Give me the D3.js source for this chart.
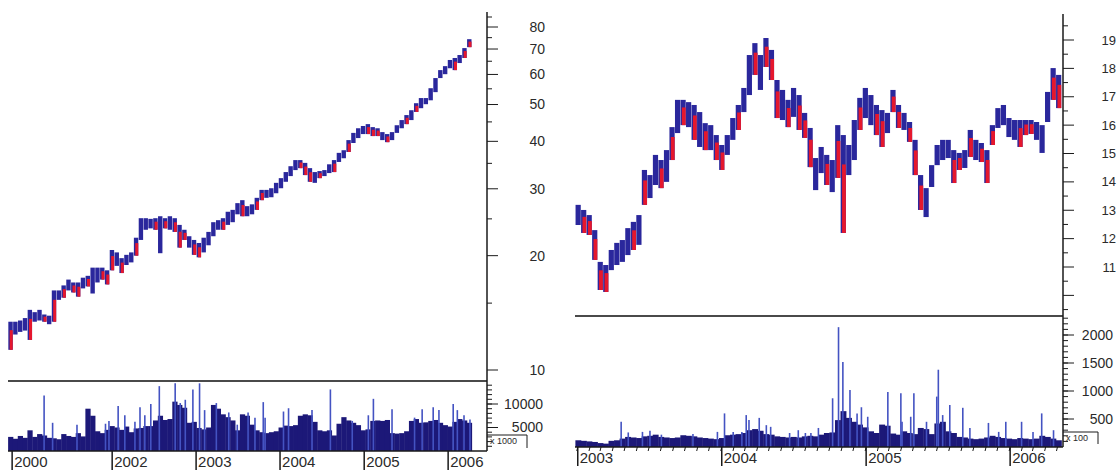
<!DOCTYPE html>
<html>
  <head>
    <meta charset="utf-8">
    <title>Price and volume</title>
    <script src="https://d3js.org/d3.v7.min.js"></script>
    <style>
      body { margin: 0; background: #fff; }
      svg { display: block; font-family: "Liberation Sans", Arial, sans-serif; }
      .label { font-size: 14px; fill: #2a2a2a; }
      .year { font-size: 15px; fill: #2a2a2a; }
      .unit { font-size: 9px; fill: #2a2a2a; }
    </style>
  </head>
  <body>
    <svg id="chart" width="1117" height="471"></svg>
    <script>
      // left chart: 3-week bars from late 2000
      const leftStart = "2000-10-16";
      const leftStepDays = 21;
      const leftHigh = [13.4,13.4,13.5,13.7,14.4,14.2,14.4,14.0,13.9,16.2, 16.2,16.7,17.3,17.0,17.0,17.5,17.7,18.6,18.6,18.6,
        18.3,20.7,20.4,19.7,20.1,20.4,22.3,25.1,25.1,25.0, 25.1,25.4,25.1,25.4,25.1,24.1,23.4,22.5,22.0,21.6,
        22.3,23.1,24.5,24.8,25.1,26.1,26.4,27.5,28.0,27.0, 27.3,28.4,29.8,29.8,30.1,31.1,32.0,33.2,34.4,35.7,
        35.7,35.1,34.0,33.2,33.4,33.6,34.8,35.7,37.3,37.9, 40.3,42.1,43.3,43.9,44.4,43.6,43.3,42.3,41.8,42.3,
        44.1,45.5,46.9,48.3,50.4,52.0,52.0,55.2,58.7,61.6, 63.1,65.5,66.3,67.5,70.4,74.3];
      const leftLow = [11.3,12.4,12.6,12.7,12.0,13.4,13.5,13.4,13.2,13.4, 15.3,15.5,16.2,16.0,15.6,16.4,16.6,15.9,17.0,17.3,
        16.8,18.3,18.8,18.0,18.9,19.2,20.0,22.0,23.4,23.6, 23.4,20.3,23.6,23.4,23.1,21.0,22.0,21.0,20.1,19.8,
        20.4,21.3,22.5,23.4,23.4,24.1,24.5,25.7,25.4,25.4, 25.7,26.4,28.0,28.4,28.5,29.2,30.1,31.3,32.4,33.6,
        34.0,32.6,31.3,31.1,32.0,32.4,33.0,33.2,35.3,36.1, 37.5,39.6,40.8,41.8,41.8,41.3,41.3,40.3,39.8,40.3,
        42.1,43.3,44.4,45.5,47.8,48.9,50.1,51.3,53.9,58.7, 60.1,62.3,61.6,64.3,66.3,70.8];
      // bars that show red (falling) in the picture
      const leftRed = [0,4,7,9,11,13,14,16,19,20,21,23,26,30,32,34,35,36,38,39,44,48,51,52,60,61,62,64,67,70,74,75,76,78,82,84,92,94,95];
      const leftVolume = [3000,2600,3200,2800,4400,3000,3600,3300,2800,2700, 2500,3600,3200,3000,3800,3100,9000,7500,4200,3800,
        4500,5300,5000,4500,5200,4000,4800,4900,5300,5300, 6500,7500,6600,6800,10500,9800,9200,6000,6200,4900,
        4600,5000,9800,9000,7800,7200,6500,4400,7800,7500, 5600,4400,4000,3800,4000,4200,5000,5400,5300,5500,
        7500,7800,7600,6200,4400,4200,4400,3300,5800,7200, 6500,6000,5500,4400,4600,6400,6500,6400,6600,3800,
        3700,3800,4200,6400,6800,6000,6100,6400,6600,6000, 5500,5200,6200,6800,6500,6000];
      const leftSpikeYears = [2001.19,2001.29,2001.58,2001.92,2001.96, 2002.07,2002.15,2002.27,2002.33,2002.39,2002.46,2002.56,2002.75,2002.81,2002.87,2002.96,
        2003.04,2003.10,2003.24,2003.39,2003.49,2003.62,2003.70,2003.80,2003.82, 2004.04,2004.10,2004.38,2004.60,2004.86,
        2005.05,2005.11,2005.33,2005.60,2005.69,2005.82,2005.89, 2006.06,2006.11,2006.19,2006.26];
      const leftSpikeVolume = [11800,6000,5600,5800,6400, 9600,7600,6200,9300,7600,10000,13800,14400,10200,10900,13100,
        14400,8700,10200,8200,5600,8200,7100,10400,7100, 8400,9100,8700,13100,6400,
        7600,11100,8900,7100,8900,9300,8700, 10000,8700,7600,6700];
      const leftPriceTicks = [10, 20, 30, 40, 50, 60, 70, 80];
      const leftPriceMinor = [15, 25, 35, 45, 55, 65, 75, 85];
      const leftVolumeTicks = [5000, 10000];
      const leftYearDates = ["2000-10-23", "2002-01-01", "2003-01-01", "2004-01-01", "2005-01-01", "2006-01-01"];
      const leftYearLabels = ["2000", "2002", "2003", "2004", "2005", "2006"];

      // right chart: 2-week bars from 2003
      const rightStart = "2003-01-02";
      const rightStepDays = 14;
      const rightHigh = [13.19,13.01,12.83,12.30,11.18,11.07,11.60,11.85,11.95,12.37, 12.59,12.83,14.42,14.24,14.95,14.77,15.12,15.93,16.89,16.89,
        16.81,16.71,16.46,16.07,16.00,15.65,15.30,15.65,16.25,16.71, 17.31,18.47,18.89,18.47,19.07,18.65,17.59,17.24,16.89,17.31,
        17.06,16.43,15.90,14.84,15.23,14.95,14.77,16.00,15.65,15.30, 16.18,16.96,17.31,17.06,16.71,16.53,16.43,17.24,16.71,16.43,
        16.11,15.48,14.24,13.78,14.59,15.30,15.48,15.48,15.12,15.02, 15.12,15.83,15.48,15.37,15.12,16.00,16.60,16.71,16.25,16.18,
        16.18,16.18,16.18,16.11,16.00,17.17,18.01,17.77];
      const rightLow = [12.48,12.20,12.13,11.25,10.19,10.12,10.89,11.07,11.18,11.42, 11.60,11.78,13.19,13.43,13.89,13.78,14.00,14.77,15.72,16.00,
        15.93,15.48,15.23,15.12,15.12,14.77,14.42,14.95,15.48,15.83, 16.46,17.06,17.77,17.24,18.05,17.59,16.25,16.18,15.93,16.29,
        15.83,15.55,14.52,13.71,14.31,13.89,13.64,14.14,12.20,14.24, 14.77,15.83,16.25,16.00,15.65,15.23,15.72,16.46,15.90,15.83,
        15.41,14.24,13.01,12.76,13.82,14.59,14.77,14.84,13.96,14.42, 14.49,14.88,14.77,14.70,13.96,15.30,15.90,16.00,15.58,15.48,
        15.23,15.65,15.69,15.48,15.02,16.11,16.89,16.60];
      const rightRed = [1,2,3,4,5,10,12,15,17,19,21,23,25,26,29,32,34,35,36,38,40,41,42,45,47,48,51,54,55,57,58,60,61,62,68,69,71,73,74,75,80,81,82,86,87];
      const rightVolume = [120,110,100,90,70,60,110,120,150,180, 170,160,190,200,220,180,170,160,170,210,
        200,190,170,160,150,140,160,210,220,230, 250,300,320,290,230,220,190,180,170,180,
        170,190,200,190,220,250,260,480,640,520, 450,400,350,280,250,400,380,240,220,280,
        250,230,340,320,230,420,450,280,250,180, 170,150,140,150,170,200,180,160,150,140,
        160,150,140,150,200,180,150,120];
      const rightSpikeYears = [2003.30,2003.35,2003.45,2003.50,2003.58,2003.80,2003.97,
        2004.02,2004.08,2004.14,2004.17,2004.19,2004.26,2004.31,2004.34,2004.47,2004.53,2004.58,2004.62,2004.67,2004.77,2004.81,2004.84,2004.89,2004.94,2004.97,
        2005.01,2005.15,2005.24,2005.25,2005.31,2005.33,2005.42,2005.49,2005.50,2005.53,2005.58,2005.67,2005.72,2005.85,2005.92,2005.97,
        2006.08,2006.16,2006.22,2006.30];
      const rightSpikeVolume = [450,260,270,290,220,230,270,
        600,270,270,570,480,520,390,360,250,300,250,250,340,870,2140,1520,1020,600,710,
        540,980,960,450,540,960,450,900,1380,570,750,700,340,430,270,450,
        450,270,600,300];
      const rightPriceTicks = [11, 12, 13, 14, 15, 16, 17, 18, 19];
      const rightVolumeTicks = [500, 1000, 1500, 2000];
      const rightYearDates = ["2003-01-01", "2004-01-01", "2005-01-01", "2006-01-01"];
      const rightYearLabels = ["2003", "2004", "2005", "2006"];

      // colours
      upColour = "#2a279c";
      downColour = "#e5172d";
      volumeColour = "#1c1878";
      spikeColour = "#4453c2";

      chart = d3.select("#chart");
      parseDate = d3.timeParse("%Y-%m-%d");

      function yearToDate(t) {
        year = Math.floor(t);
        return d3.timeDay.offset(new Date(year, 0, 1), Math.round((t - year) * 365.25));
      }

      function drawPanel(p) {
        g = chart.append("g");
        x = d3.scaleTime()
          .domain([yearToDate(p.startYear), yearToDate(p.endYear)])
          .range([p.left, p.right]);
        dates = p.high.map(function(d, i) { return d3.timeDay.offset(parseDate(p.start), i * p.step); });
        step = x(dates[1]) - x(dates[0]);
        // volume bars
        g.selectAll(".vol")
          .data(p.volume)
          .enter().append("rect")
            .attr("x", function(d, i) { return x(dates[i]) - step / 2; })
            .attr("width", step + 0.4)
            .attr("y", function(d) { return p.yVol(d); })
            .attr("height", function(d) { return p.yVol(0) - p.yVol(d); })
            .attr("fill", volumeColour);
        g.selectAll(".spike")
          .data(p.spikeYears)
          .enter().append("line")
            .attr("x1", function(d) { return x(yearToDate(d)); })
            .attr("x2", function(d) { return x(yearToDate(d)); })
            .attr("y1", p.yVol(0))
            .attr("y2", function(d, i) { return p.yVol(p.spikeVolume[i]); })
            .attr("stroke", spikeColour)
            .attr("stroke-width", 1.6);
        // price bars: blue range, red overlay on falling bars
        g.selectAll(".bar")
          .data(p.high)
          .enter().append("rect")
            .attr("x", function(d, i) { return x(dates[i]) - p.barWidth / 2; })
            .attr("width", p.barWidth)
            .attr("y", function(d) { return p.yPrice(d); })
            .attr("height", function(d, i) { return Math.max(1.5, p.yPrice(p.low[i]) - p.yPrice(d)); })
            .attr("fill", upColour);
        g.selectAll(".redbar")
          .data(p.red)
          .enter().append("rect")
            .attr("x", function(i) { return x(dates[i]) - p.barWidth / 2 + 1.4; })
            .attr("width", p.barWidth - 1.4)
            .attr("y", function(i) { return p.yPrice(p.high[i]) + 0.3 * (p.yPrice(p.low[i]) - p.yPrice(p.high[i])); })
            .attr("height", function(i) { return 0.7 * (p.yPrice(p.low[i]) - p.yPrice(p.high[i])); })
            .attr("fill", downColour);
        // divider between price and volume
        g.append("line")
          .attr("x1", p.left).attr("x2", p.axisX)
          .attr("y1", p.dividerY).attr("y2", p.dividerY)
          .attr("stroke", "#4a4a4a").attr("stroke-width", 2);
        // bottom axis
        g.append("line")
          .attr("x1", p.left).attr("x2", p.axisX)
          .attr("y1", p.yVol(0)).attr("y2", p.yVol(0))
          .attr("stroke", "#1a1a1a").attr("stroke-width", 1.5);
        if (p.monthTicks) {
          g.selectAll(".month")
            .data(d3.timeMonth.range(x.domain()[0], x.domain()[1]))
            .enter().append("line")
              .attr("x1", function(d) { return x(d); })
              .attr("x2", function(d) { return x(d) - 1; })
              .attr("y1", p.yVol(0))
              .attr("y2", p.yVol(0) + 4)
              .attr("stroke", "#1a1a1a");
        }
        years = g.selectAll(".year")
          .data(p.yearDates)
          .enter().append("g")
            .attr("transform", function(d) { return "translate(" + x(parseDate(d)) + ",0)"; });
        years.append("line")
          .attr("y1", p.yVol(0)).attr("y2", p.yVol(0) + 19)
          .attr("stroke", "#1a1a1a").attr("stroke-width", 1.5);
        years.append("text")
          .attr("class", "year")
          .attr("x", 2)
          .attr("y", p.yVol(0) + 16)
          .text(function(d, i) { return p.yearLabels[i]; });
        // right axis
        g.append("line")
          .attr("x1", p.axisX).attr("x2", p.axisX)
          .attr("y1", p.axisTop).attr("y2", p.yVol(0))
          .attr("stroke", "#1a1a1a").attr("stroke-width", 1.5);
        g.selectAll(".pminor")
          .data(p.priceMinor)
          .enter().append("line")
            .attr("x1", p.axisX).attr("x2", p.axisX + 5)
            .attr("y1", function(d) { return p.yPrice(d); })
            .attr("y2", function(d) { return p.yPrice(d); })
            .attr("stroke", "#1a1a1a");
        g.selectAll(".pmajor")
          .data(p.priceMajor)
          .enter().append("line")
            .attr("x1", p.axisX).attr("x2", p.axisX + 11)
            .attr("y1", function(d) { return p.yPrice(d); })
            .attr("y2", function(d) { return p.yPrice(d); })
            .attr("stroke", "#1a1a1a");
        g.selectAll(".plabel")
          .data(p.priceTicks)
          .enter().append("text")
            .attr("class", "label")
            .attr("text-anchor", "end")
            .attr("x", p.priceLabelX)
            .attr("y", function(d) { return p.yPrice(d); })
            .attr("dy", "0.35em")
            .style("font-size", p.priceLabelSize)
            .text(function(d) { return d; });
        g.selectAll(".vminor")
          .data(p.volumeMinor)
          .enter().append("line")
            .attr("x1", p.axisX).attr("x2", p.axisX + 5)
            .attr("y1", function(d) { return p.yVol(d); })
            .attr("y2", function(d) { return p.yVol(d); })
            .attr("stroke", "#1a1a1a");
        g.selectAll(".vmajor")
          .data(p.volumeTicks)
          .enter().append("line")
            .attr("x1", p.axisX).attr("x2", p.axisX + 11)
            .attr("y1", function(d) { return p.yVol(d); })
            .attr("y2", function(d) { return p.yVol(d); })
            .attr("stroke", "#1a1a1a");
        g.selectAll(".vlabel")
          .data(p.volumeTicks)
          .enter().append("text")
            .attr("class", "label")
            .attr("text-anchor", "end")
            .attr("x", p.volumeLabelX)
            .attr("y", function(d) { return p.yVol(d); })
            .attr("dy", "0.35em")
            .text(function(d) { return d; });
        // unit box
        g.append("path")
          .attr("d", "M" + p.axisX + "," + p.boxTop + "H" + p.boxRight + "V" + (p.yVol(0) - 3))
          .attr("fill", "none")
          .attr("stroke", "#1a1a1a");
        g.append("text")
          .attr("class", "unit")
          .attr("x", p.axisX + 3)
          .attr("y", p.boxTop + 9)
          .text(p.unit);
      }

      drawPanel({
        start: leftStart, step: leftStepDays,
        high: leftHigh, low: leftLow, red: leftRed, volume: leftVolume,
        spikeYears: leftSpikeYears, spikeVolume: leftSpikeVolume,
        startYear: 2000.762, endYear: 2006.464,
        left: 8, right: 487, axisX: 487, axisTop: 12, dividerY: 381,
        barWidth: 4.4,
        yPrice: d3.scaleLog().domain([10, 80]).range([370, 27]),
        yVol: d3.scaleLinear().domain([0, 10000]).range([451, 404]),
        priceTicks: leftPriceTicks, priceMajor: leftPriceTicks, priceMinor: leftPriceMinor,
        volumeTicks: leftVolumeTicks, volumeMinor: d3.range(1000, 15000, 1000),
        priceLabelX: 545, priceLabelSize: "14px", volumeLabelX: 543,
        yearDates: leftYearDates, yearLabels: leftYearLabels,
        monthTicks: false,
        boxTop: 435, boxRight: 527, unit: "x 1000"
      });

      drawPanel({
        start: rightStart, step: rightStepDays,
        high: rightHigh, low: rightLow, red: rightRed, volume: rightVolume,
        spikeYears: rightSpikeYears, spikeVolume: rightSpikeVolume,
        startYear: 2002.979, endYear: 2006.368,
        left: 575, right: 1063, axisX: 1063, axisTop: 14, dividerY: 316,
        barWidth: 5.2,
        yPrice: d3.scaleLinear().domain([11, 19]).range([267, 40]),
        yVol: d3.scaleLinear().domain([0, 2000]).range([447, 335]),
        priceTicks: rightPriceTicks, priceMajor: d3.range(10, 20), priceMinor: d3.range(9.5, 20, 1),
        volumeTicks: rightVolumeTicks, volumeMinor: d3.range(100, 2400, 100),
        priceLabelX: 1116, priceLabelSize: "13px", volumeLabelX: 1113,
        yearDates: rightYearDates, yearLabels: rightYearLabels,
        monthTicks: true,
        boxTop: 432, boxRight: 1098, unit: "x 100"
      });
    </script>
  </body>
</html>
